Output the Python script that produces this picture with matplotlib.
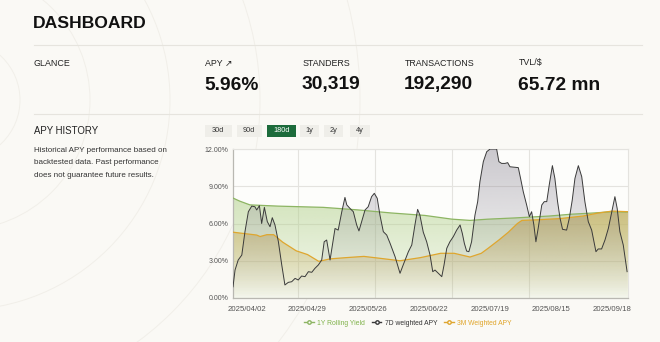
import numpy as np
import matplotlib
matplotlib.use("Agg")
import matplotlib.pyplot as plt
from matplotlib.patches import Circle, FancyBboxPatch
from matplotlib.lines import Line2D

plt.rcParams['font.family'] = ['Liberation Sans', 'DejaVu Sans']

# ---------------- data ----------------
glance_labels = ["APY \u2197", "STANDERS", "TRANSACTIONS", "TVL/$"]
glance_values = ["5.96%", "30,319", "192,290", "65.72 mn"]
range_buttons = ["30d", "90d", "180d", "1y", "2y", "4y"]
active_button = "180d"

x_tick_days = [6, 33, 60, 87, 114, 141, 168]
x_tick_labels = ["2025/04/02", "2025/04/29", "2025/05/26", "2025/06/22",
                 "2025/07/19", "2025/08/15", "2025/09/18"]
y_ticks = [0, 3, 6, 9, 12]

# 7D weighted APY
d7_days = [0, 0.9, 2.3, 3.9, 5.3, 6.8, 8.3, 9.7, 10.5, 11.7, 12.7, 13.9, 15.2, 16.4,
           17.4, 18.6, 20.1, 21.6, 23.0, 24.5, 26.0, 27.5, 28.9, 30.4, 31.9, 33.4,
           34.9, 36.3, 37.8, 39.3, 40.4, 41.5, 43.0, 45.2, 46.6, 48.2, 49.6, 50.4,
           51.8, 53.3, 54.8, 55.8, 57.0, 58.5, 59.9, 61.4, 62.6, 63.9, 65.1, 66.6,
           68.1, 69.6, 71.8, 74.0, 75.4, 77.7, 79.2, 80.6, 81.8, 82.8, 84.3, 85.8,
           87.3, 88.5, 89.5, 91.0, 92.5, 93.5, 94.7, 96.1, 97.6, 99.1, 100.6, 101.6,
           102.5, 103.5, 104.5, 105.7, 107.2, 108.4, 109.4, 110.9, 112.4, 113.9,
           116.8, 117.8, 119.0, 120.5, 121.7, 122.7, 126.4, 127.4, 128.6, 130.1,
           131.3, 132.3, 133.3, 134.2, 135.2, 136.8, 137.9, 139.0, 140.1, 141.5,
           142.6, 143.8, 144.9, 146.0, 147.8, 149.0, 150.3, 151.5, 153.0, 154.5,
           155.9, 157.4, 158.9, 160.8, 161.8, 163.3, 164.8, 166.3, 167.8, 169.2,
           170.2, 171.4, 172.9, 174.6]
d7_apy = [0.9, 2.25, 3.06, 3.46, 5.34, 6.95, 7.4, 7.35, 7.09, 7.44, 6.0, 7.3, 6.15, 5.74,
          6.47, 5.88, 4.54, 2.66, 1.05, 1.26, 1.31, 1.58, 1.45, 1.77, 1.72, 2.12,
          2.07, 2.39, 2.66, 3.06, 4.53, 4.67, 3.06, 5.6, 5.47, 6.95, 8.1, 7.5,
          7.22, 6.95, 5.88, 5.4, 6.15, 7.09, 7.35, 8.16, 8.43, 8.03, 6.68, 5.34,
          5.07, 4.4, 3.33, 1.99, 2.66, 3.73, 4.27, 5.88, 7.14, 6.68, 5.3, 4.53,
          3.46, 2.12, 2.25, 1.99, 1.72, 2.66, 4.0, 4.53, 4.94, 5.47, 5.88, 5.2,
          4.4, 3.78, 3.73, 4.53, 6.68, 7.76, 9.37, 10.98, 11.78, 12.0,
          12.0, 10.98, 10.84, 10.84, 10.9, 10.57, 10.5, 9.64, 8.56, 7.49,
          6.55, 6.95, 5.88, 4.53, 5.61, 7.49, 7.76, 7.76, 9.1, 10.66,
          9.64, 7.76, 6.42, 5.53, 5.47, 6.42, 7.89, 9.64, 10.66, 9.77,
          7.76, 6.15, 5.47, 3.73, 3.95, 3.95, 4.67, 5.61, 6.95, 8.16,
          7.22, 5.34, 4.27, 2.12]

# 1Y rolling yield
y1_days = [0, 3, 7.5, 20, 40, 55, 70, 85, 97, 105, 113, 125, 140, 150, 160, 168, 175]
y1_apy = [8.05, 7.8, 7.5, 7.4, 7.3, 7.1, 6.85, 6.65, 6.35, 6.25, 6.35, 6.45, 6.6,
          6.75, 6.85, 6.95, 6.92]

# 3M weighted APY
m3_days = [0, 10.5, 12, 15, 18, 22, 28, 33, 38, 43, 50, 58, 65, 74, 83, 92, 98, 105,
           110, 113, 118, 122, 126, 128, 135, 145, 155, 162, 168, 175]
m3_apy = [5.3, 5.07, 4.95, 5.1, 5.1, 4.5, 3.8, 3.5, 2.95, 3.15, 3.25, 3.35, 3.2, 3.0,
          3.25, 3.6, 3.6, 3.3, 3.6, 4.0, 4.7, 5.3, 6.0, 6.25, 6.3, 6.4, 6.6, 6.85,
          7.0, 6.95]

series_names = ["1Y Rolling Yield", "7D weighted APY", "3M Weighted APY"]

# ---------------- styling ----------------
BG = "#faf9f5"
GREEN = "#8db563"
GREEN_TXT = "#7fb24a"
BLACK = "#3a3a3a"
GOLD = "#dfa62e"
GOLD_TXT = "#e0a52a"

W, H = 660, 342
fig = plt.figure(figsize=(W / 100, H / 100), dpi=100, facecolor=BG)

# background axes in pixel coords
bg = fig.add_axes([0, 0, 1, 1])
bg.set_xlim(0, W)
bg.set_ylim(H, 0)
bg.axis("off")
bg.set_facecolor(BG)
for r in [60, 130, 210, 300, 400]:
    bg.add_patch(Circle((-40, 100), r, fill=False, ec="#f1efe9", lw=0.7, zorder=0))


def px_text(x, y, s, **kw):
    bg.text(x, y, s, **kw)


px_text(33, 24, "DASHBOARD", fontsize=12.6, fontweight="bold", color="#111111",
        va="center", ha="left")
bg.plot([34, 642], [45, 45], color="#e6e4de", lw=0.8)
bg.plot([34, 642], [114, 114], color="#e6e4de", lw=0.8)

px_text(34, 63, "GLANCE", fontsize=6.4, color="#222222", va="center")
gx = [205, 303, 405, 519]
for x, lab, val in zip(gx, glance_labels, glance_values):
    px_text(x, 63, lab, fontsize=6.4, color="#222222", va="center")
    px_text(x - 1, 85, val, fontsize=13.8, fontweight="bold", color="#111111", va="center")

px_text(34, 131, "APY HISTORY", fontsize=6.9, color="#222222", va="center")
desc = ["Historical APY performance based on",
        "backtested data. Past performance",
        "does not guarantee future results."]
for i, line in enumerate(desc):
    px_text(34, 150 + i * 12.8, line, fontsize=5.8, color="#333333", va="center")

# range buttons
btn_x = [205, 236.5, 267, 300, 324, 350]
btn_w = [26.5, 25, 28.5, 19, 19, 20]
for x, w, lab in zip(btn_x, btn_w, range_buttons):
    active = lab == active_button
    bg.add_patch(FancyBboxPatch((x, 124.5), w, 12.5, boxstyle="square,pad=0",
                                fc="#1c6b3b" if active else "#efeee9", ec="none"))
    px_text(x + w / 2, 131, lab, fontsize=5.3, ha="center", va="center",
            color="white" if active else "#333333")

# ---------------- chart ----------------
L, R, T, B = 233, 628, 149, 298
ax = fig.add_axes([L / W, 1 - B / H, (R - L) / W, (B - T) / H])
ax.set_facecolor("#fdfdfb")
ax.set_xlim(0, 175)
ax.set_ylim(0, 12)


def grad_fill(x, y, rgb, a_top, a_bot, z, top=12):
    poly = ax.fill_between(x, y, 0, facecolor="none", edgecolor="none")
    path = poly.get_paths()[0]
    n = 256
    img = np.zeros((n, 1, 4))
    img[:, 0, :3] = matplotlib.colors.to_rgb(rgb)
    img[:, 0, 3] = np.linspace(a_top, a_bot, n)
    im = ax.imshow(img, aspect="auto", extent=[min(x), max(x), 0, top],
                   origin="upper", zorder=z, interpolation="bilinear")
    im.set_clip_path(path, transform=ax.transData)


grad_fill(y1_days, y1_apy, "#b0cf88", 0.55, 0.10, 1, top=8.2)
grad_fill(m3_days, m3_apy, "#c8ae62", 0.72, 0.02, 2, top=7.2)
grad_fill(d7_days, d7_apy, "#85808f", 0.42, 0.0, 3, top=12)

ax.plot(y1_days, y1_apy, color=GREEN, lw=0.9, zorder=5)
ax.plot(m3_days, m3_apy, color=GOLD, lw=0.9, zorder=5)
ax.plot(d7_days, d7_apy, color=BLACK, lw=0.7, zorder=6)

ax.set_yticks(y_ticks)
ax.set_yticklabels([f"{v:.2f}%" for v in y_ticks])
ax.set_xticks(x_tick_days)
ax.set_xticklabels(x_tick_labels)
ax.set_xticks([29, 63, 97, 131], minor=True)
ax.grid(True, axis="y", color="#e4e3df", lw=0.8, zorder=0)
ax.grid(True, axis="x", which="minor", color="#e4e3df", lw=0.8, zorder=0)
ax.set_axisbelow(True)
ax.tick_params(axis="both", which="both", length=0, labelsize=5.6, colors="#555555")
ax.tick_params(axis="y", labelsize=5.0, pad=3)
ax.tick_params(axis="x", pad=6)
for s in ["top", "right"]:
    ax.spines[s].set_color("#e4e3df")
    ax.spines[s].set_linewidth(0.8)
for s in ["left", "bottom"]:
    ax.spines[s].set_color("#b9b8b2")
    ax.spines[s].set_linewidth(0.9)

handles = [Line2D([], [], color=GREEN, marker="o", markersize=2.5, mfc="white", lw=1),
           Line2D([], [], color=BLACK, marker="o", markersize=2.5, mfc="white", lw=1),
           Line2D([], [], color=GOLD, marker="o", markersize=2.5, mfc="white", lw=1)]
leg = ax.legend(handles, series_names, loc="upper center", bbox_to_anchor=(0.443, -0.105),
                ncol=3, frameon=False, fontsize=4.9, handlelength=1.4, handletextpad=0.5,
                columnspacing=1.0)
for t, c in zip(leg.get_texts(), [GREEN_TXT, "#333333", GOLD_TXT]):
    t.set_color(c)

fig.savefig("out.png", dpi=100, facecolor=BG)
